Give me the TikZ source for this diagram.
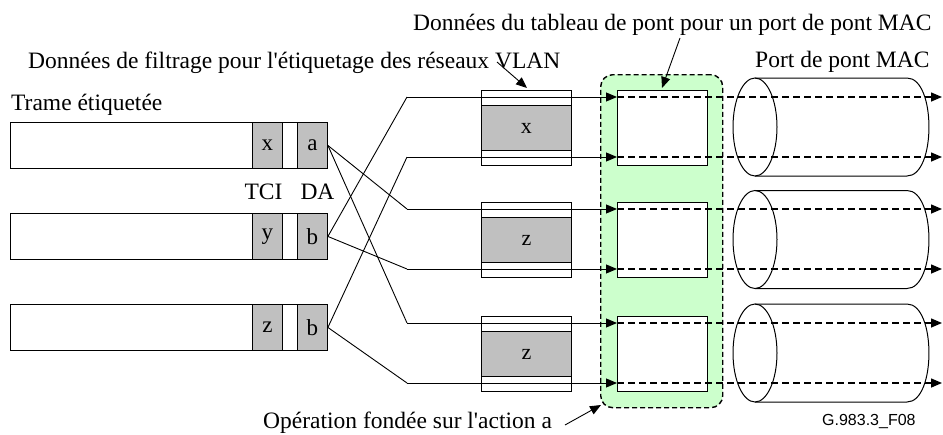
\documentclass[tikz,border=0pt]{standalone}
\usepackage{fontspec}
\setmainfont{Liberation Serif}
\setsansfont{Liberation Sans}
\usetikzlibrary{arrows.meta}
\definecolor{cellgray}{RGB}{192,192,192}
\definecolor{zonegreen}{RGB}{204,255,204}
\begin{document}
\begin{tikzpicture}[x=1pt,y=-1pt,
  thinline/.style={line width=0.9pt},
  tipped/.style={-{Triangle[length=11pt,width=9pt]}},
  framebox/.style={draw, line width=0.9pt, fill=white, minimum width=317pt, minimum height=46pt, inner sep=0pt, anchor=north west},
  cell/.style={draw, line width=0.9pt, fill=cellgray, minimum width=30pt, minimum height=46pt, inner sep=0pt, anchor=north west, font=\fontsize{23}{26}\selectfont},
  vlanbox/.style={draw, line width=0.9pt, fill=white, minimum width=90pt, minimum height=75pt, inner sep=0pt, anchor=north west},
  vlancore/.style={draw, line width=0.9pt, fill=cellgray, minimum width=90pt, minimum height=45pt, inner sep=0pt, anchor=north west, font=\fontsize{22}{25}\selectfont},
  portbox/.style={draw, line width=1.2pt, fill=white, minimum width=90pt, minimum height=75pt, inner sep=0pt, anchor=north west},
  lbl/.style={font=\fontsize{23.5}{28}\selectfont, inner sep=0pt},
  flow/.style={line width=1.5pt, dash pattern=on 7pt off 4pt},
  cyl/.style={line width=1pt}
]
\useasboundingbox (0,0) rectangle (943,434);

% green zone
\node[draw, line width=1.4pt, dash pattern=on 5pt off 3pt, fill=zonegreen, rounded corners=12pt,
  minimum width=122pt, minimum height=333pt, inner sep=0pt, anchor=north west] (zone) at (600,74) {};

% frames
\foreach \i/\y/\t/\d in {1/122/x/a, 2/213/y/b, 3/304/z/b}{
  \node[framebox] (f\i) at (10,\y) {};
  \node[cell] (t\i) at (252,\y) {\t};
  \node[cell] (d\i) at (297,\y) {\d};
}

% VLAN boxes and port boxes
\foreach \i/\y/\l in {1/90/x, 2/202/z, 3/316/z}{
  \node[vlanbox] (v\i) at (481,\y) {};
  \node[vlancore] (g\i) at (481,\y+15) {\l};
  \node[portbox] (p\i) at (617,\y) {};
}

% cylinders
\foreach \c in {127,239.5,353}{
  \draw[cyl] (755,\c) ellipse [x radius=22pt, y radius=49pt];
  \draw[cyl] (755,\c-49) -- (907,\c-49) .. controls (936.3,\c-49) and (936.3,\c+49) .. (907,\c+49) -- (755,\c+49);
}

% bend and entry coordinates
\foreach \r/\y in {1a/97, 1b/157, 2a/209, 2b/269, 3a/323, 3b/383}{
  \coordinate (k\r) at (407,\y);
  \coordinate (in\r) at (617,\y);
  \coordinate (out\r) at (942,\y);
}

% connectors from the DA cells
\draw[thinline] (d1.east) -- (k2a);
\draw[thinline] (d1.east) -- (k3a);
\draw[thinline] (d2.east) -- (k1a);
\draw[thinline] (d2.east) -- (k2b);
\draw[thinline] (d3.east) -- (k1b);
\draw[thinline] (d3.east) -- (k3b);
\foreach \r in {1a,1b,2a,2b,3a,3b}{
  \draw[thinline, tipped] (k\r) -- (in\r);
  \draw[flow, tipped] (in\r) -- (out\r);
}

% labels
\node[lbl, anchor=base west] (ltab) at (413,30) {Données du tableau de pont pour un port de pont MAC};
\node[lbl, anchor=base west] (lfilt) at (28,68.5) {Données de filtrage pour l\textquotesingle étiquetage des réseaux VLAN};
\node[lbl, anchor=base west] (lport) at (755,67) {Port de pont MAC};
\node[lbl, anchor=base west] (ltrame) at (11,110) {Trame étiquetée};
\node[lbl, anchor=base] (ltci) at (263.5,199) {TCI};
\node[lbl, anchor=base] (lda) at (317.5,199) {DA};
\node[lbl, anchor=base west] (lop) at (263,428) {Opération fondée sur l\textquotesingle action a};
\node[anchor=base west, inner sep=0pt, font=\sffamily\fontsize{16}{19}\selectfont] (lfig) at (822,425) {G.983.3\_F08};

% callouts
\coordinate (cf) at (497,62);
\coordinate (ct) at (680,38);
\coordinate (co) at (565,425);
\draw[thinline, tipped] (cf) -- (527,88);
\draw[thinline, tipped] (ct) -- (662,88);
\draw[thinline, tipped] (co) -- (601,405);
\end{tikzpicture}
\end{document}
